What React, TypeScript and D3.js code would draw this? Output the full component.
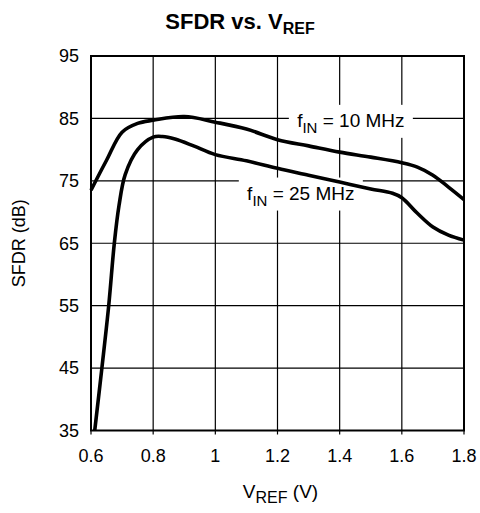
import React from "react";
import * as d3 from "d3";

const xTicks = [0.6, 0.8, 1.0, 1.2, 1.4, 1.6, 1.8];
const xTickLabels = ["0.6", "0.8", "1", "1.2", "1.4", "1.6", "1.8"];
const yTicks = [35, 45, 55, 65, 75, 85, 95];

const v10 = [0.6, 0.65, 0.7, 0.75, 0.8, 0.9, 1.0, 1.1, 1.2, 1.3, 1.4, 1.5, 1.6, 1.65, 1.7, 1.75, 1.8];
const s10 = [73.5, 78.3, 82.8, 84.2, 84.7, 85.3, 84.4, 83.3, 81.6, 80.6, 79.6, 78.8, 77.9, 77.2, 75.9, 74.0, 72.0];

const v25 = [0.612, 0.635, 0.657, 0.675, 0.69, 0.71, 0.75, 0.8, 0.83, 0.87, 0.93, 1.0, 1.1, 1.2, 1.3, 1.4, 1.5, 1.57, 1.6, 1.65, 1.7, 1.75, 1.8];
const s25 = [35, 45, 55, 65, 71, 76.0, 80.0, 82.0, 82.1, 81.7, 80.6, 79.2, 78.2, 77.0, 75.9, 74.8, 73.7, 73.0, 72.3, 69.8, 67.6, 66.3, 65.5];

const W = 480, H = 513;
const L = 91, R = 464, T = 56, B = 430.5;
const FONT = "'Liberation Sans', Arial, Helvetica, sans-serif";

export default function App() {
  const x = d3.scaleLinear().domain([0.6, 1.8]).range([L, R]);
  const y = d3.scaleLinear().domain([35, 95]).range([B, T]);
  const line = d3
    .line<[number, number]>()
    .x((d) => x(d[0]))
    .y((d) => y(d[1]))
    .curve(d3.curveCatmullRom.alpha(0.5));
  const d10 = line(v10.map((v, i) => [v, s10[i]] as [number, number])) || "";
  const d25 = line(v25.map((v, i) => [v, s25[i]] as [number, number])) || "";

  const lab10 = { v: 1.436, db: 83.65 };
  const lab25 = { v: 1.275, db: 72.0 };

  return (
    <svg width={W} height={H} style={{ position: "absolute", left: 0, top: 0, background: "#fff" }} fontFamily={FONT}>
      <rect x={0} y={0} width={W} height={H} fill="#fff" />
      {/* title */}
      <text x={240} y={29} textAnchor="middle" fontSize={22} fontWeight="bold" fill="#000">
        SFDR vs. V<tspan fontSize={16} dy={5}>REF</tspan>
      </text>
      {/* grid */}
      <g stroke="#000" strokeWidth={1.2}>
        {xTicks.slice(1, -1).map((t) => (
          <line key={"vx" + t} x1={x(t)} x2={x(t)} y1={T} y2={B} />
        ))}
        {yTicks.slice(1, -1).map((t) => (
          <line key={"hy" + t} x1={L} x2={R} y1={y(t)} y2={y(t)} />
        ))}
        {xTicks.map((t) => (
          <line key={"tk" + t} x1={x(t)} x2={x(t)} y1={B} y2={B + 4} />
        ))}
      </g>
      {/* label backgrounds */}
      <rect x={x(lab10.v) - 62} y={y(lab10.db) - 22} width={124} height={33} fill="#fff" />
      <rect x={x(lab25.v) - 62} y={y(lab25.db) - 22} width={124} height={33} fill="#fff" />
      {/* frame */}
      <rect x={L} y={T} width={R - L} height={B - T} fill="none" stroke="#000" strokeWidth={2} />
      {/* curves */}
      <path d={d10} fill="none" stroke="#000" strokeWidth={3.6} strokeLinejoin="round" />
      <path d={d25} fill="none" stroke="#000" strokeWidth={3.6} strokeLinejoin="round" />
      {/* annotations */}
      <text x={x(lab10.v)} y={y(lab10.db)} textAnchor="middle" fontSize={19} fill="#000">
        f<tspan fontSize={15} dy={6}>IN</tspan>
        <tspan dy={-6}> = 10 MHz</tspan>
      </text>
      <text x={x(lab25.v)} y={y(lab25.db)} textAnchor="middle" fontSize={19} fill="#000">
        f<tspan fontSize={15} dy={6}>IN</tspan>
        <tspan dy={-6}> = 25 MHz</tspan>
      </text>
      {/* y tick labels */}
      {yTicks.map((t) => (
        <text key={"yl" + t} x={79} y={y(t)} dy="0.35em" textAnchor="end" fontSize={18} fill="#000">
          {t}
        </text>
      ))}
      {/* x tick labels */}
      {xTicks.map((t, i) => (
        <text key={"xl" + t} x={x(t)} y={B + 31} textAnchor="middle" fontSize={18} fill="#000">
          {xTickLabels[i]}
        </text>
      ))}
      {/* axis titles */}
      <text x={(L + R) / 2 + 3} y={498} textAnchor="middle" fontSize={19} fill="#000">
        V<tspan fontSize={16} dy={5}>REF</tspan>
        <tspan dy={-5}> (V)</tspan>
      </text>
      <text transform={`translate(25, ${(T + B) / 2}) rotate(-90)`} textAnchor="middle" fontSize={18} fill="#000">
        SFDR (dB)
      </text>
    </svg>
  );
}
